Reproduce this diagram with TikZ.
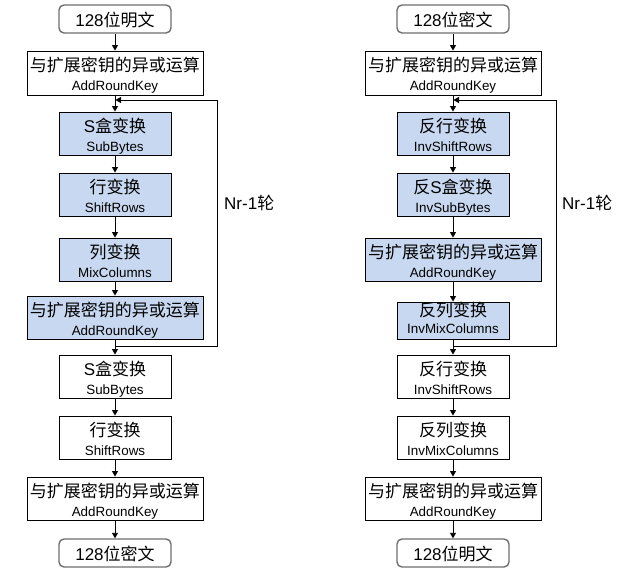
\documentclass[tikz,border=0pt]{standalone}
\usepackage{fontspec}
\setmainfont{Liberation Sans}
\newfontfamily\zh{Noto Sans CJK SC}
\usetikzlibrary{arrows.meta,calc}
\definecolor{stageblue}{RGB}{200,216,240}
\definecolor{rndgray}{RGB}{110,110,110}
\newcommand{\bigf}{\fontsize{17}{18}\selectfont}
\newcommand{\smallf}{\fontsize{13.4}{14}\selectfont}
\tikzset{
  plainbox/.style={draw=black, line width=0.9pt, fill=white, inner sep=0pt},
  bluebox/.style={draw=black, line width=0.9pt, fill=stageblue, inner sep=0pt},
  endbox/.style={draw=rndgray, line width=1.4pt, rounded corners=5pt, fill=white, inner sep=0pt, minimum width=112pt, minimum height=28pt},
  zhtxt/.style={anchor=base, inner sep=0pt, font=\bigf},
  entxt/.style={anchor=base, inner sep=0pt, font=\smallf},
  arr/.style={draw=black, line width=0.9pt, -{Triangle[length=5.5pt,width=6pt]}},
  loopline/.style={draw=black, line width=0.9pt, -{Triangle[length=5.5pt,width=6pt]}}
}
\newcommand{\stage}[8]{%
  \node[#2, minimum width=#5pt, minimum height=#6pt] (#1) at (#3,#4) {};
  \node[zhtxt] (#1-z) at ($(#1.center)+(0,-1.5)$) {#7};
  \node[entxt] (#1-e) at ($(#1.center)+(0,17.5)$) {#8};
}
\begin{document}
\begin{tikzpicture}[x=1pt,y=-1pt]
\useasboundingbox (0,0) rectangle (625,571);

% ---------------- left column: encryption ----------------
\node[endbox] (inL) at (115,19) {};
\node[zhtxt] (inL-t) at ($(inL.center)+(0,7)$) {128{\zh 位明文}};
\stage{a0}{plainbox}{115}{73}{176}{44}{{\zh 与扩展密钥的异或运算}}{AddRoundKey}
\stage{sb1}{bluebox}{115}{133.5}{112}{43}{S{\zh 盒变换}}{SubBytes}
\stage{sr1}{bluebox}{115}{194.5}{112}{43}{{\zh 行变换}}{ShiftRows}
\stage{mc1}{bluebox}{115}{259.5}{112}{43}{{\zh 列变换}}{MixColumns}
\stage{a1}{bluebox}{115}{317.5}{176}{43}{{\zh 与扩展密钥的异或运算}}{AddRoundKey}
\stage{sb2}{plainbox}{115}{376.5}{112}{43}{S{\zh 盒变换}}{SubBytes}
\stage{sr2}{plainbox}{115}{437.5}{112}{43}{{\zh 行变换}}{ShiftRows}
\stage{a2}{plainbox}{115}{498.5}{176}{43}{{\zh 与扩展密钥的异或运算}}{AddRoundKey}
\node[endbox] (outL) at (115,553) {};
\node[zhtxt] (outL-t) at ($(outL.center)+(0,7)$) {128{\zh 位密文}};

\draw[arr] (inL) -- (a0);
\draw[arr] (a0) -- (sb1);
\draw[arr] (sb1) -- (sr1);
\draw[arr] (sr1) -- (mc1);
\draw[arr] (mc1) -- (a1);
\draw[arr] (a1) -- (sb2);
\draw[arr] (sb2) -- (sr2);
\draw[arr] (sr2) -- (a2);
\draw[arr] (a2) -- (outL);
\coordinate (lbL) at (115,346);
\coordinate (lcL) at (217,346);
\coordinate (ltL) at (217,100);
\coordinate (leL) at (115.5,100);
\draw[loopline] (lbL) -- (lcL) -- (ltL) -- (leL);
\node[anchor=base west, inner sep=0pt, font=\bigf] (nrL) at (224,209) {Nr-1{\zh 轮}};

% ---------------- right column: decryption ----------------
\node[endbox] (inR) at (453,19) {};
\node[zhtxt] (inR-t) at ($(inR.center)+(0,7)$) {128{\zh 位密文}};
\stage{b0}{plainbox}{453}{73}{176}{44}{{\zh 与扩展密钥的异或运算}}{AddRoundKey}
\stage{isr1}{bluebox}{453}{133.5}{112}{43}{{\zh 反行变换}}{InvShiftRows}
\stage{isb1}{bluebox}{453}{194.5}{112}{43}{{\zh 反}S{\zh 盒变换}}{InvSubBytes}
\stage{b1}{bluebox}{453}{259.5}{176}{43}{{\zh 与扩展密钥的异或运算}}{AddRoundKey}
\node[bluebox, minimum width=112pt, minimum height=37pt] (imc1) at (453,320.5) {};
\node[zhtxt] (imc1-z) at ($(imc1.center)+(0,-4.5)$) {{\zh 反列变换}};
\node[entxt] (imc1-e) at ($(imc1.center)+(0,12.5)$) {InvMixColumns};
\stage{isr2}{plainbox}{453}{376.5}{112}{43}{{\zh 反行变换}}{InvShiftRows}
\stage{imc2}{plainbox}{453}{437.5}{112}{43}{{\zh 反列变换}}{InvMixColumns}
\stage{b2}{plainbox}{453}{498.5}{176}{43}{{\zh 与扩展密钥的异或运算}}{AddRoundKey}
\node[endbox] (outR) at (453,553) {};
\node[zhtxt] (outR-t) at ($(outR.center)+(0,7)$) {128{\zh 位明文}};

\draw[arr] (inR) -- (b0);
\draw[arr] (b0) -- (isr1);
\draw[arr] (isr1) -- (isb1);
\draw[arr] (isb1) -- (b1);
\draw[arr] (b1) -- (imc1);
\draw[arr] (imc1) -- (isr2);
\draw[arr] (isr2) -- (imc2);
\draw[arr] (imc2) -- (b2);
\draw[arr] (b2) -- (outR);
\coordinate (lbR) at (453,346);
\coordinate (lcR) at (556,346);
\coordinate (ltR) at (556,100);
\coordinate (leR) at (453.5,100);
\draw[loopline] (lbR) -- (lcR) -- (ltR) -- (leR);
\node[anchor=base west, inner sep=0pt, font=\bigf] (nrR) at (562,209) {Nr-1{\zh 轮}};
\end{tikzpicture}
\end{document}
